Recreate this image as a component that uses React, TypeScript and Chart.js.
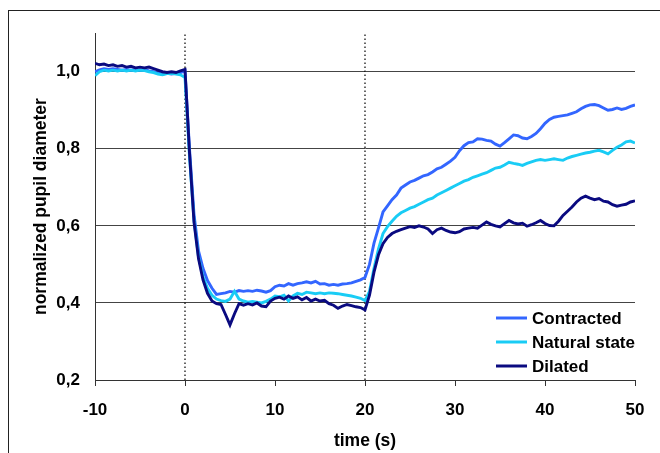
import React, { useEffect, useRef } from "react";
import { Chart, registerables } from "chart.js";

Chart.register(...registerables);

const times = [
  -10, -9.5, -9, -8.5, -8, -7.5, -7, -6.5, -6, -5.5,
  -5, -4.5, -4, -3.5, -3, -2.5, -2, -1.5, -1, -0.5,
  0, 0.5, 1, 1.5, 2, 2.5, 3, 3.5, 4, 4.5,
  5, 5.5, 6, 6.5, 7, 7.5, 8, 8.5, 9, 9.5,
  10, 10.5, 11, 11.5, 12, 12.5, 13, 13.5, 14, 14.5,
  15, 15.5, 16, 16.5, 17, 17.5, 18, 18.5, 19, 19.5,
  20, 20.5, 21, 21.5, 22, 22.5, 23, 23.5, 24, 24.5,
  25, 25.5, 26, 26.5, 27, 27.5, 28, 28.5, 29, 29.5,
  30, 30.5, 31, 31.5, 32, 32.5, 33, 33.5, 34, 34.5,
  35, 35.5, 36, 36.5, 37, 37.5, 38, 38.5, 39, 39.5,
  40, 40.5, 41, 41.5, 42, 42.5, 43, 43.5, 44, 44.5,
  45, 45.5, 46, 46.5, 47, 47.5, 48, 48.5, 49, 49.5,
  50,
];

const contracted = [
  1.0, 1.005, 1.008, 1.006, 1.008, 1.006, 1.004, 1.006, 1.004, 1.006,
  1.004, 1.006, 1.002, 1.0, 0.996, 0.994, 0.996, 0.994, 0.996, 0.998,
  1.002, 0.8, 0.63, 0.535, 0.49, 0.458, 0.438, 0.422, 0.424, 0.426,
  0.43, 0.428, 0.432, 0.43, 0.432, 0.43, 0.433, 0.431, 0.428, 0.432,
  0.442, 0.446, 0.444, 0.45, 0.446, 0.45, 0.452, 0.455, 0.452, 0.456,
  0.449, 0.45, 0.446, 0.448, 0.446, 0.449, 0.45, 0.452, 0.456, 0.46,
  0.466, 0.5, 0.555, 0.595, 0.636, 0.652, 0.668, 0.68, 0.698, 0.706,
  0.714, 0.718, 0.724, 0.73, 0.733, 0.74, 0.748, 0.752, 0.76, 0.768,
  0.778, 0.795, 0.808, 0.816, 0.818, 0.826, 0.825, 0.822, 0.82, 0.812,
  0.807, 0.816, 0.826, 0.836, 0.834, 0.828, 0.826, 0.832, 0.84, 0.852,
  0.866, 0.876, 0.882, 0.884, 0.886, 0.888, 0.892, 0.896, 0.904, 0.91,
  0.914, 0.915, 0.912, 0.906, 0.9, 0.902, 0.906, 0.902, 0.905, 0.91,
  0.914,
];

const naturalState = [
  0.99, 1.0, 1.004, 1.002, 1.004, 1.002, 1.004, 1.002, 1.004, 1.002,
  1.004, 1.003, 1.0, 0.998, 0.994, 0.992, 0.995, 0.996, 0.994, 0.992,
  0.985, 0.78, 0.615, 0.52, 0.468, 0.438, 0.42, 0.41, 0.406, 0.404,
  0.41, 0.43, 0.41, 0.405, 0.402, 0.404, 0.402, 0.4, 0.404, 0.41,
  0.418, 0.416, 0.42, 0.405, 0.418, 0.425, 0.422, 0.428, 0.426, 0.424,
  0.426, 0.424, 0.426, 0.425, 0.424, 0.422, 0.42, 0.418, 0.415, 0.412,
  0.406, 0.43, 0.49, 0.54, 0.58, 0.598, 0.612, 0.625, 0.634, 0.64,
  0.646, 0.65, 0.656, 0.662, 0.668, 0.672, 0.68, 0.686, 0.692, 0.698,
  0.704, 0.71, 0.716, 0.72, 0.726, 0.73, 0.734, 0.738, 0.744, 0.75,
  0.752, 0.758, 0.765, 0.762, 0.76, 0.757, 0.762, 0.766, 0.77, 0.772,
  0.77, 0.772, 0.774, 0.772, 0.77, 0.776, 0.78, 0.783, 0.786, 0.789,
  0.791, 0.794, 0.796, 0.792, 0.787, 0.796, 0.804, 0.81, 0.818, 0.82,
  0.815,
];

const dilated = [
  1.022, 1.018, 1.02, 1.016, 1.018, 1.014, 1.016, 1.012, 1.014, 1.01,
  1.012, 1.01, 1.012, 1.008, 1.004, 1.0, 0.998, 1.0, 0.998, 1.002,
  1.006, 0.79, 0.61, 0.515, 0.46, 0.425, 0.405, 0.398, 0.396, 0.37,
  0.343, 0.372, 0.398, 0.394, 0.398, 0.395, 0.4, 0.392, 0.39, 0.405,
  0.412, 0.415, 0.41, 0.418, 0.412, 0.416, 0.408, 0.414, 0.405, 0.41,
  0.405, 0.407, 0.398, 0.394, 0.386, 0.392, 0.396, 0.393, 0.39, 0.388,
  0.382, 0.42, 0.48, 0.525, 0.554, 0.57, 0.58, 0.586, 0.59, 0.594,
  0.598, 0.596, 0.6, 0.597, 0.592, 0.58, 0.59, 0.594, 0.588, 0.584,
  0.582, 0.585, 0.592, 0.594, 0.596, 0.594, 0.602, 0.61, 0.604, 0.6,
  0.597, 0.606, 0.614, 0.608, 0.605, 0.607, 0.599, 0.603, 0.608, 0.614,
  0.606, 0.601, 0.6, 0.612, 0.627, 0.638, 0.649, 0.662, 0.672, 0.677,
  0.672, 0.668, 0.671, 0.664, 0.662, 0.655, 0.651, 0.654, 0.656, 0.662,
  0.665,
];

const seriesNames = ["Contracted", "Natural state", "Dilated"];
const seriesColors = ["#3366FF", "#19CCF5", "#0A0A80"];
const markerTimes = [0, 20];
const yTickValues = [0.2, 0.4, 0.6, 0.8, 1.0];
const xTickValues = [-10, 0, 10, 20, 30, 40, 50];
const yRange = [0.2, 1.1];
const xRange = [-10, 50];

const FONT = "'Liberation Sans', Arial, sans-serif";

const legendPlugin = {
  id: "insideLegend",
  afterDraw(chart: any) {
    const { ctx, chartArea } = chart;
    ctx.save();
    ctx.font = `bold 17px ${FONT}`;
    ctx.textBaseline = "middle";
    ctx.textAlign = "left";
    const offsets = [-62, -38, -14];
    seriesNames.forEach((name, i) => {
      const y = chartArea.bottom + offsets[i];
      ctx.strokeStyle = seriesColors[i];
      ctx.lineWidth = 3;
      ctx.beginPath();
      ctx.moveTo(chartArea.right - 139, y);
      ctx.lineTo(chartArea.right - 108, y);
      ctx.stroke();
      ctx.fillStyle = "#000";
      ctx.fillText(name, chartArea.right - 103, y + 1);
    });
    ctx.restore();
  },
};

export default function App() {
  const canvasRef = useRef<HTMLCanvasElement | null>(null);

  useEffect(() => {
    const canvas = canvasRef.current;
    if (!canvas) return;
    const seriesValues = [contracted, naturalState, dilated];
    const datasets: any[] = seriesValues.map((vals, i) => ({
      label: seriesNames[i],
      data: times.map((t, k) => ({ x: t, y: vals[k] })),
      borderColor: seriesColors[i],
      borderWidth: 2.9,
      pointRadius: 0,
      tension: 0,
      fill: false,
      order: 3 - i,
    }));
    markerTimes.forEach((t) => {
      datasets.push({
        label: "marker",
        data: [
          { x: t, y: yRange[0] },
          { x: t, y: yRange[1] },
        ],
        borderColor: "#000",
        borderWidth: 1.2,
        borderDash: [1.5, 2.5],
        pointRadius: 0,
        fill: false,
        order: 10,
      });
    });

    const chart = new Chart(canvas, {
      type: "line",
      data: { datasets },
      plugins: [legendPlugin],
      options: {
        responsive: false,
        animation: false,
        devicePixelRatio: 1,
        layout: { padding: { top: 24, right: 25, left: 0, bottom: 0 } },
        plugins: {
          legend: { display: false },
          tooltip: { enabled: false },
        },
        scales: {
          x: {
            type: "linear",
            min: xRange[0],
            max: xRange[1],
            afterBuildTicks: (scale: any) => {
              scale.ticks = xTickValues.map((v) => ({ value: v }));
            },
            afterFit: (scale: any) => {
              scale.height = 73;
            },
            ticks: {
              color: "#000",
              font: { family: FONT, size: 17, weight: "bold" },
              padding: 14,
              maxRotation: 0,
              autoSkip: false,
            },
            grid: {
              display: true,
              drawOnChartArea: false,
              drawTicks: true,
              tickLength: 6,
              color: "#333",
              lineWidth: 1,
            },
            border: { display: true, color: "#333", width: 1 },
            title: {
              display: true,
              text: "time (s)",
              color: "#000",
              font: { family: FONT, size: 17.5, weight: "bold" },
              padding: { top: 0, bottom: 1 },
            },
          },
          y: {
            type: "linear",
            min: yRange[0],
            max: yRange[1],
            afterBuildTicks: (scale: any) => {
              scale.ticks = yTickValues.map((v) => ({ value: v }));
            },
            afterFit: (scale: any) => {
              scale.width = 87;
            },
            ticks: {
              color: "#000",
              font: { family: FONT, size: 17, weight: "bold" },
              padding: 15,
              callback: (v: any) => Number(v).toFixed(1).replace(".", ","),
            },
            grid: {
              display: true,
              drawTicks: false,
              color: "#444",
              lineWidth: 1,
            },
            border: { display: true, color: "#333", width: 1 },
            title: {
              display: true,
              text: "normalized pupil diameter",
              color: "#000",
              font: { family: FONT, size: 17.5, weight: "bold" },
              padding: { top: 23, bottom: 0 },
            },
          },
        },
      } as any,
    });
    return () => chart.destroy();
  }, []);

  return (
    <div style={{ position: "relative", width: 652, height: 445 }}>
      <canvas
        ref={canvasRef}
        width={652}
        height={445}
        style={{ display: "block", width: 652, height: 445 }}
      />
      <div
        style={{
          position: "fixed",
          left: 8,
          top: 10,
          width: 800,
          height: 600,
          borderLeft: "1px solid #222",
          borderTop: "1px solid #222",
          pointerEvents: "none",
        }}
      />
    </div>
  );
}
